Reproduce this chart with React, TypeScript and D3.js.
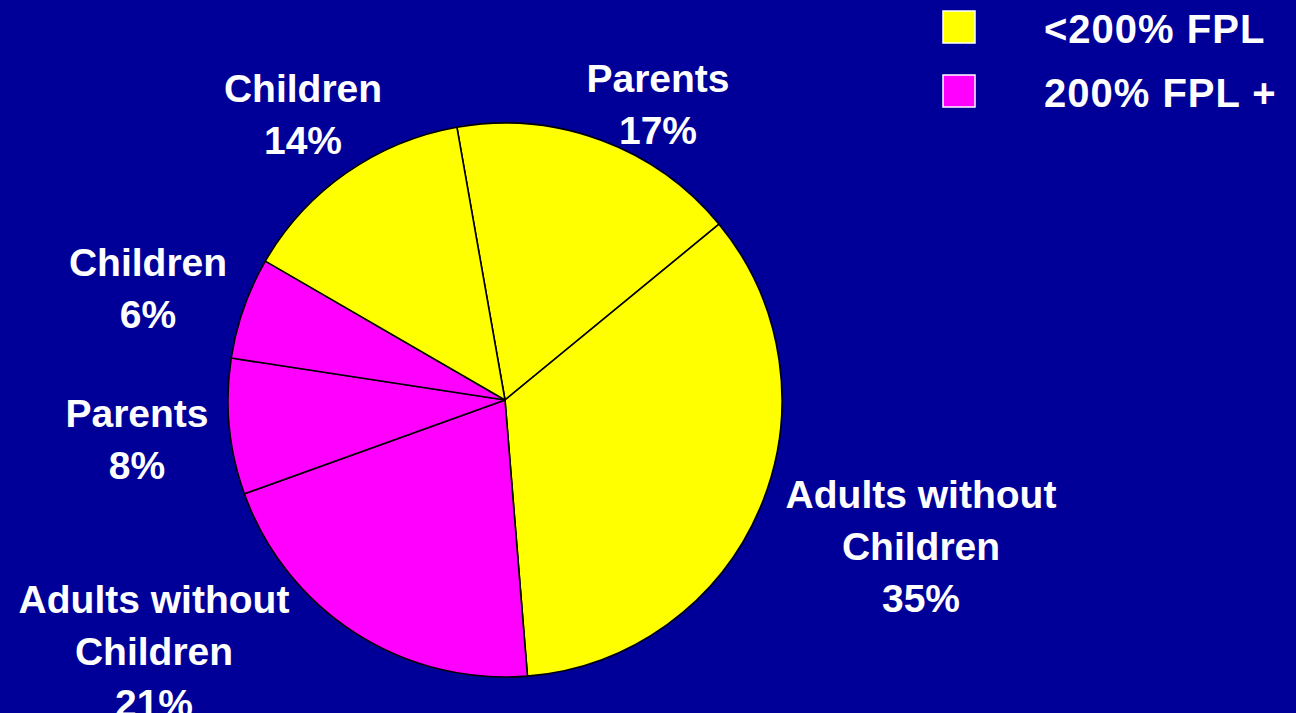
import React from "react";
import * as d3 from "d3";

const categories = ["Parents", "Adults without Children", "Adults without Children", "Parents", "Children", "Children"];
const values = [17, 35, 21, 8, 6, 14];
const groups = ["<200% FPL", "<200% FPL", "200% FPL +", "200% FPL +", "200% FPL +", "<200% FPL"];
const legendLabels = ["<200% FPL", "200% FPL +"];
const groupColors = ["#FFFF00", "#FF00FF"];

// layout (not data)
const W = 1296;
const H = 713;
const CX = 505;
const CY = 400;
const R = 277;
const START = (-10 * Math.PI) / 180;
const labelAnchors = [
  { x: 658, y: 92 },
  { x: 921, y: 508 },
  { x: 154, y: 613 },
  { x: 137, y: 427 },
  { x: 148, y: 276 },
  { x: 303, y: 102 },
];
const LINE = 52;
const FONT = "'Liberation Sans', Arial, Helvetica, sans-serif";

function wrap(cat: string): string[] {
  if (cat === "Adults without Children") return ["Adults without", "Children"];
  return [cat];
}

export default function App() {
  const color = d3.scaleOrdinal<string, string>().domain(legendLabels).range(groupColors);
  const pie = d3
    .pie<number>()
    .sort(null)
    .startAngle(START)
    .endAngle(START + 2 * Math.PI)
    .value((d) => d);
  const arcs = pie(values);
  const arc = d3.arc<d3.PieArcDatum<number>>().innerRadius(0).outerRadius(R);

  return (
    <svg
      width={W}
      height={H}
      style={{ position: "fixed", left: 0, top: 0, display: "block" }}
      fontFamily={FONT}
      fontWeight="bold"
    >
      <rect x={0} y={0} width={W} height={H} fill="#000099" />
      <g transform={`translate(${CX},${CY})`}>
        {arcs.map((a, i) => (
          <path key={i} d={arc(a) || ""} fill={color(groups[i])} stroke="#000" strokeWidth={1.6} strokeLinejoin="round" />
        ))}
      </g>
      {arcs.map((a, i) => {
        const lines = [...wrap(categories[i]), `${values[i]}%`];
        const p = labelAnchors[i];
        return (
          <text key={i} x={p.x} y={p.y} fill="#fff" fontSize={39} textAnchor="middle">
            {lines.map((l, j) => (
              <tspan key={j} x={p.x} y={p.y + j * LINE}>
                {l}
              </tspan>
            ))}
          </text>
        );
      })}
      {legendLabels.map((l, i) => (
        <g key={l} transform={`translate(943,${11 + i * 64})`}>
          <rect x={0} y={0} width={32} height={32} fill={color(l)} stroke="#fff" strokeWidth={1.5} />
          <text x={101} y={32} fill="#fff" fontSize={40} letterSpacing={1}>
            {l}
          </text>
        </g>
      ))}
    </svg>
  );
}
